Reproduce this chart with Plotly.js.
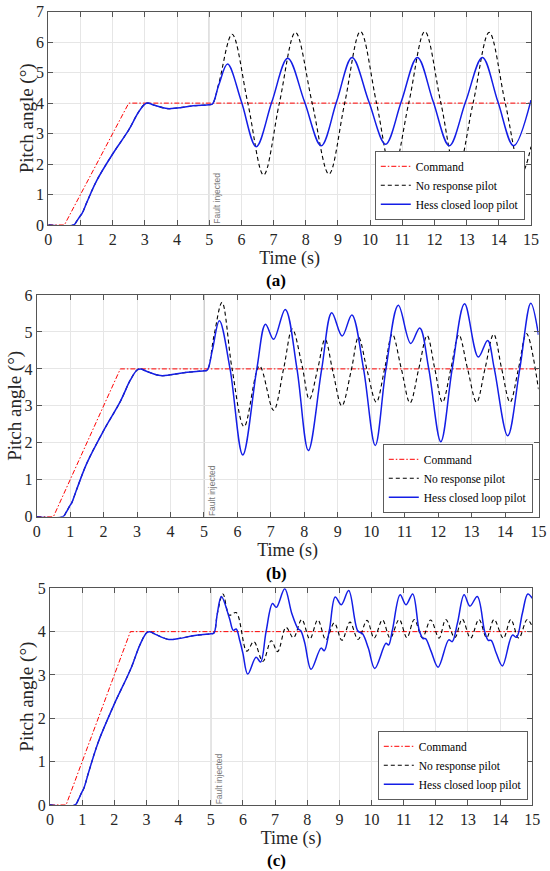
<!DOCTYPE html>
<html>
<head>
<meta charset="utf-8">
<script src="https://cdn.plot.ly/plotly-3.0.1.min.js"></script>
<style>html,body{margin:0;padding:0;background:#fff;}#chart{width:550px;height:871px;}</style>
</head>
<body>
<div id="chart"></div>
<script>
// ---------- data ----------
const seriesNames = ["Command", "No response pilot", "Hess closed loop pilot"];
const panelLabels = ["(a)", "(b)", "(c)"];
const faultText = "Fault injected";

const tCommand = [0, 0.5, 2.5, 15];
const command = [0, 0, 4, 4];

// common response before the fault (t <= 5.1 s)
const tEarly = [0, 0.78, 0.88, 0.98, 1.05, 1.2, 1.5, 2.0, 2.5, 2.8, 3.0, 3.1, 3.3, 3.7, 4.0, 4.5, 5.0, 5.1];
const early = [0, 0, 0.12, 0.28, 0.38, 0.75, 1.45, 2.33, 3.12, 3.7, 3.97, 4.0, 3.93, 3.82, 3.84, 3.91, 3.95, 3.97];

// panel (a)
const tHessA = [5.3, 5.57, 6.0, 6.46, 6.95, 7.44, 7.96, 8.48, 8.96, 9.44, 9.96, 10.48, 10.97, 11.47, 11.96, 12.46, 12.97, 13.49, 13.97, 14.46, 15.0];
const hessA = [4.6, 5.28, 4.05, 2.57, 4.05, 5.47, 4.05, 2.60, 4.05, 5.50, 4.05, 2.65, 4.05, 5.50, 4.05, 2.60, 4.05, 5.50, 4.05, 2.60, 4.10];
const tNoRespA = [5.3, 5.71, 6.2, 6.69, 7.18, 7.68, 8.2, 8.72, 9.21, 9.70, 10.2, 10.69, 11.2, 11.70, 12.2, 12.69, 13.2, 13.70, 14.2, 14.71, 15.0];
const noRespA = [4.65, 6.26, 4.0, 1.64, 4.0, 6.32, 4.0, 1.67, 4.0, 6.35, 4.0, 1.70, 4.0, 6.35, 4.0, 1.70, 4.0, 6.32, 4.0, 1.70, 2.57];

// panel (b)
const tHessB = [5.25, 5.46, 5.78, 6.16, 6.58, 6.84, 7.08, 7.43, 7.78, 8.12, 8.52, 8.82, 9.13, 9.42, 9.77, 10.12, 10.44, 10.81, 11.18, 11.45, 11.72, 12.08, 12.42, 12.79, 13.2, 13.48, 13.68, 14.08, 14.44, 14.77, 15.0];
const hessB = [4.5, 5.30, 4.0, 1.67, 4.0, 5.21, 4.80, 5.61, 4.0, 1.79, 4.0, 5.52, 4.89, 5.46, 4.0, 1.93, 4.0, 5.72, 4.69, 5.11, 4.0, 2.03, 4.0, 5.76, 4.32, 4.77, 4.0, 2.19, 4.0, 5.78, 4.92];
const tNoRespB = [5.3, 5.54, 5.84, 6.2, 6.66, 7.08, 7.38, 7.64, 7.93, 8.15, 8.40, 8.62, 8.86, 9.12, 9.40, 9.62, 9.88, 10.15, 10.40, 10.63, 10.90, 11.16, 11.42, 11.67, 11.90, 12.13, 12.38, 12.62, 12.88, 13.15, 13.40, 13.66, 13.90, 14.15, 14.40, 14.64, 15.0];
const noRespB = [4.9, 5.80, 4.0, 2.44, 4.08, 2.88, 4.0, 5.08, 4.1, 3.18, 4.0, 4.80, 3.9, 3.0, 3.95, 4.86, 3.95, 3.10, 4.0, 4.94, 4.0, 3.08, 4.0, 4.90, 4.0, 3.10, 4.0, 4.92, 4.0, 3.10, 4.0, 4.94, 4.0, 3.10, 4.0, 4.96, 3.45];

// panel (c)
const tHessC = [5.2, 5.33, 5.58, 5.70, 5.79, 5.9, 6.0, 6.15, 6.41, 6.55, 6.72, 6.92, 7.04, 7.30, 7.52, 7.72, 7.80, 7.92, 8.12, 8.43, 8.53, 8.69, 8.87, 9.06, 9.29, 9.57, 9.72, 9.90, 10.10, 10.45, 10.53, 10.65, 10.89, 11.07, 11.28, 11.48, 11.60, 11.68, 11.85, 12.07, 12.40, 12.51, 12.67, 12.88, 13.06, 13.29, 13.52, 13.63, 13.72, 13.88, 14.07, 14.38, 14.51, 14.69, 14.86, 15.0];
const hessC = [4.4, 4.81, 4.31, 4.03, 4.06, 3.8, 3.5, 3.02, 3.41, 3.30, 4.0, 4.65, 4.56, 4.99, 4.42, 4.06, 4.02, 3.75, 3.13, 3.62, 3.56, 4.04, 4.80, 4.62, 4.95, 4.02, 3.95, 3.62, 3.15, 3.73, 3.69, 4.04, 4.85, 4.62, 4.87, 4.04, 3.84, 3.84, 3.55, 3.18, 3.81, 3.77, 4.19, 4.85, 4.59, 4.81, 4.0, 3.80, 3.80, 3.5, 3.21, 3.92, 3.87, 4.42, 4.87, 4.77];
const tNoRespC = [5.2, 5.38, 5.58, 5.79, 6.12, 6.34, 6.62, 6.88, 7.08, 7.34, 7.57, 7.83, 8.08, 8.33, 8.58, 8.84, 9.08, 9.33, 9.58, 9.86, 10.08, 10.34, 10.58, 10.86, 11.10, 11.33, 11.58, 11.84, 12.10, 12.31, 12.59, 12.82, 13.08, 13.34, 13.58, 13.81, 14.10, 14.33, 14.58, 14.84, 15.0];
const noRespC = [4.4, 4.87, 4.38, 4.44, 3.55, 3.77, 3.31, 3.79, 3.54, 4.10, 3.86, 4.28, 3.83, 4.27, 3.81, 4.20, 3.80, 4.22, 3.82, 4.26, 3.85, 4.27, 3.85, 4.28, 3.86, 4.28, 3.86, 4.27, 3.85, 4.28, 3.86, 4.29, 3.85, 4.28, 3.86, 4.28, 3.85, 4.28, 3.85, 4.28, 4.12];

const yMax = [7, 6, 5];
const faultY = [0.87, 0.72, 0.61];

// ---------- layout helpers ----------
const W = 550, H = 871;
const boxes = [ // pixel boxes of each plot area [left, right, top, bottom]
  [48.3, 531, 11.7, 225],
  [36.7, 538.5, 295, 516.7],
  [50, 532.3, 588.3, 805]
];
const legendPos = [[525, 220], [533, 513], [528, 800]];
const labelY = [280, 573, 860];
const titleX = [27, 15, 27];

const serif = "'Liberation Serif', 'Times New Roman', serif";
const axisCol = "#262626";

const hessT = [tHessA, tHessB, tHessC], hessY = [hessA, hessB, hessC];
const nrT = [tNoRespA, tNoRespB, tNoRespC], nrY = [noRespA, noRespB, noRespC];

const traces = [];
const layout = {
  width: W, height: H,
  margin: {l: 0, r: 0, t: 0, b: 0},
  paper_bgcolor: "#fff", plot_bgcolor: "#fff",
  font: {family: serif, color: axisCol},
  showlegend: true,
  shapes: [], annotations: []
};

for (let i = 0; i < 3; i++) {
  const sfx = i === 0 ? "" : String(i + 1);
  const xa = "x" + sfx, ya = "y" + sfx;
  const lg = "legend" + sfx;
  traces.push({
    x: tCommand, y: command, xaxis: xa, yaxis: ya, legend: lg,
    name: seriesNames[0], mode: "lines",
    line: {color: "rgb(255,0,0)", width: 1, dash: "5px,2px,1.5px,2px"}
  });
  traces.push({
    x: tEarly.concat(nrT[i]), y: early.concat(nrY[i]), xaxis: xa, yaxis: ya, legend: lg,
    name: seriesNames[1], mode: "lines",
    line: {color: "#000", width: 1.1, dash: "4px,3px", shape: "spline", smoothing: 1}
  });
  traces.push({
    x: tEarly.concat(hessT[i]), y: early.concat(hessY[i]), xaxis: xa, yaxis: ya, legend: lg,
    name: seriesNames[2], mode: "lines",
    line: {color: "rgb(20,30,230)", width: 1.5, shape: "spline", smoothing: 1}
  });

  const b = boxes[i];
  const axCommon = {
    showline: true, linecolor: "#555", linewidth: 1, mirror: "ticks",
    ticks: "inside", ticklen: 5, tickcolor: "#555", tickwidth: 1,
    showgrid: true, gridcolor: "#e6e6e6", gridwidth: 1,
    zeroline: false, tickfont: {family: serif, size: 16, color: axisCol},
    fixedrange: true
  };
  layout["xaxis" + sfx] = Object.assign({}, axCommon, {
    domain: [b[0] / W, b[1] / W], anchor: ya,
    range: [0, 15], dtick: 1, tick0: 0,
    title: {text: "Time (s)", font: {family: serif, size: 18, color: axisCol}, standoff: 2}
  });
  layout["yaxis" + sfx] = Object.assign({}, axCommon, {
    domain: [1 - b[3] / H, 1 - b[2] / H], anchor: xa,
    range: [0, yMax[i]], dtick: 1, tick0: 0,
    title: {text: "", font: {family: serif, size: 18, color: axisCol}}
  });
  layout[lg] = {
    x: legendPos[i][0] / W, y: 1 - legendPos[i][1] / H,
    xanchor: "right", yanchor: "bottom", xref: "paper", yref: "paper",
    bgcolor: "#fff", bordercolor: "#333", borderwidth: 0.8,
    font: {family: serif, size: 11.5, color: "#000"},
    itemwidth: 30, tracegroupgap: 0
  };
  layout.shapes.push({
    type: "line", xref: xa, yref: ya + " domain", x0: 5, x1: 5, y0: 0, y1: 1,
    line: {color: "#9a9a9a", width: 1}, layer: "below"
  });
  // y axis title placed as rotated text beside the axis
  layout.annotations.push({
    text: "Pitch angle (°)", xref: "paper", yref: ya + " domain",
    x: titleX[i] / W, y: 0.5, xanchor: "center", yanchor: "middle",
    textangle: -90, showarrow: false,
    font: {family: serif, size: 19, color: axisCol}
  });
  layout.annotations.push({
    text: faultText, xref: xa, yref: ya, x: 5, y: faultY[i], xshift: 8,
    xanchor: "center", yanchor: "middle", textangle: -90, showarrow: false,
    font: {family: "'Liberation Sans Narrow', 'Liberation Sans', Arial, sans-serif", size: 8.5, color: "#7a7a7a"}
  });
  layout.annotations.push({
    text: "<b>" + panelLabels[i] + "</b>", xref: "paper", yref: "paper",
    x: 276 / W, y: 1 - labelY[i] / H, xanchor: "center", yanchor: "middle",
    showarrow: false, font: {family: serif, size: 17, color: "#000"}
  });
}

Plotly.newPlot("chart", traces, layout, {staticPlot: true, displayModeBar: false});
</script>
</body>
</html>
